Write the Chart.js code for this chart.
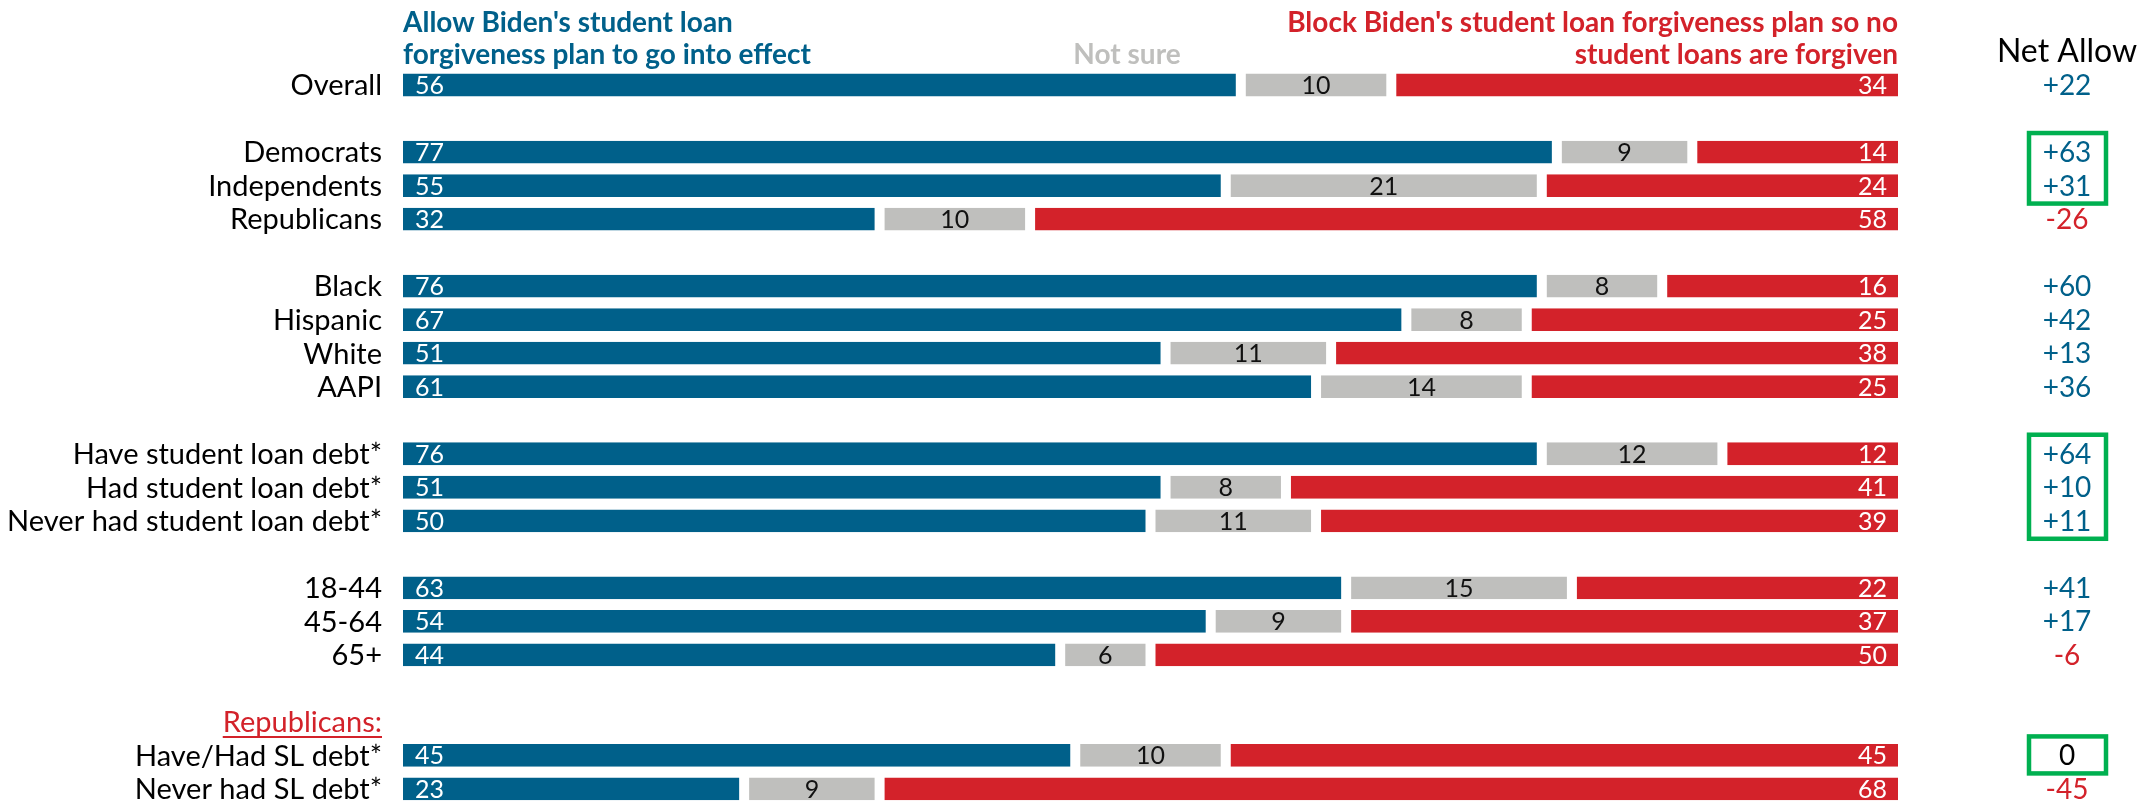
<!DOCTYPE html>
<html>
<head>
<meta charset="utf-8">
<script src="https://cdn.jsdelivr.net/npm/chart.js@4.4.1/dist/chart.umd.min.js"></script>
<style>
  html, body { margin: 0; background: #fff; overflow: hidden; }
  #wrap { width: 2152px; height: 830px; }
</style>
</head>
<body>
<div id="wrap"><canvas id="chart"></canvas></div>
<script>
// rows, '' = spacer row
const categories = ['Overall', '', 'Democrats', 'Independents', 'Republicans', '',
  'Black', 'Hispanic', 'White', 'AAPI', '',
  'Have student loan debt*', 'Had student loan debt*', 'Never had student loan debt*', '',
  '18-44', '45-64', '65+', '', 'Republicans:', 'Have/Had SL debt*', 'Never had SL debt*'];
const allow    = [56, null, 77, 55, 32, null, 76, 67, 51, 61, null, 76, 51, 50, null, 63, 54, 44, null, null, 45, 23];
const notSure  = [10, null, 9, 21, 10, null, 8, 8, 11, 14, null, 12, 8, 11, null, 15, 9, 6, null, null, 10, 9];
const block    = [34, null, 14, 24, 58, null, 16, 25, 38, 25, null, 12, 41, 39, null, 22, 37, 50, null, null, 45, 68];
const netAllow = [22, null, 63, 31, -26, null, 60, 42, 13, 36, null, 64, 10, 11, null, 41, 17, -6, null, null, 0, -45];
const boxedRows = [[2, 3], [11, 13], [20, 20]];
const subHeader = 'Republicans:';

const BLUE = '#00608a';
const RED = '#d3222a';
const GRAY = '#bfbfbd';
const GREEN = '#00b050';
const FONT = "Lato, 'Liberation Sans', sans-serif";

const barStyle = {
  borderColor: '#fff',
  borderWidth: { left: 5, right: 5, top: 0, bottom: 0 },
  borderSkipped: false,
  barPercentage: 0.68,
  categoryPercentage: 1
};

const overlay = {
  id: 'overlay',
  afterDatasetsDraw(chart) {
    const { ctx, chartArea, scales: { x, y } } = chart;
    ctx.save();
    ctx.textBaseline = 'middle';

    // row labels
    const labelX = chartArea.left - 16;
    ctx.font = `29px ${FONT}`;
    ctx.textAlign = 'right';
    categories.forEach((c, i) => {
      if (!c) return;
      const yy = y.getPixelForValue(i) + 1;
      ctx.fillStyle = c === subHeader ? RED : '#000';
      ctx.fillText(c, labelX, yy);
      if (c === subHeader) {
        const w = ctx.measureText(c).width;
        ctx.strokeStyle = RED; ctx.lineWidth = 2;
        ctx.beginPath();
        ctx.moveTo(labelX - w, yy + 14);
        ctx.lineTo(labelX, yy + 14);
        ctx.stroke();
      }
    });

    // values inside the bars
    ctx.font = `25px ${FONT}`;
    chart.data.datasets.forEach((ds, di) => {
      chart.getDatasetMeta(di).data.forEach((bar, i) => {
        const v = ds.data[i];
        if (v == null) return;
        const l = Math.min(bar.x, bar.base) + 5, r = Math.max(bar.x, bar.base) - 5;
        if (di === 0) { ctx.fillStyle = '#fff'; ctx.textAlign = 'left'; ctx.fillText(v, l + 12, bar.y + 1); }
        if (di === 1) { ctx.fillStyle = '#111'; ctx.textAlign = 'center'; ctx.fillText(v, (l + r) / 2, bar.y + 1); }
        if (di === 2) { ctx.fillStyle = '#fff'; ctx.textAlign = 'right'; ctx.fillText(v, r - 11, bar.y + 1); }
      });
    });

    // column headers
    const x0 = x.getPixelForValue(0) + 5, x100 = x.getPixelForValue(100) - 5;
    const top = chartArea.top;
    ctx.font = `bold 28px ${FONT}`;
    ctx.fillStyle = BLUE; ctx.textAlign = 'left';
    ctx.fillText("Allow Biden's student loan", x0, top - 45);
    ctx.fillText('forgiveness plan to go into effect', x0, top - 13);
    ctx.fillStyle = RED; ctx.textAlign = 'right';
    ctx.fillText("Block Biden's student loan forgiveness plan so no", x100, top - 45);
    ctx.fillText('student loans are forgiven', x100, top - 13);
    ctx.fillStyle = GRAY; ctx.textAlign = 'center';
    ctx.fillText('Not sure', 1127, top - 13);

    // net allow column
    const netX = 2067;
    ctx.font = `32px ${FONT}`;
    ctx.fillStyle = '#000';
    ctx.fillText('Net Allow', netX, top - 17);
    ctx.font = `28px ${FONT}`;
    netAllow.forEach((v, i) => {
      if (v == null) return;
      ctx.fillStyle = v > 0 ? BLUE : v < 0 ? RED : '#000';
      ctx.fillText(v > 0 ? '+' + v : String(v), netX, y.getPixelForValue(i) + 1);
    });

    // highlight boxes
    ctx.strokeStyle = GREEN; ctx.lineWidth = 4.5;
    boxedRows.forEach(([a, b]) => {
      const y1 = y.getPixelForValue(a) - 19, y2 = y.getPixelForValue(b) + 18;
      ctx.strokeRect(2029, y1, 77, y2 - y1);
    });
    ctx.restore();
  }
};

new Chart(document.getElementById('chart'), {
  type: 'bar',
  data: {
    labels: categories,
    datasets: [
      { label: 'Allow', data: allow, backgroundColor: BLUE, ...barStyle },
      { label: 'Not sure', data: notSure, backgroundColor: GRAY, ...barStyle },
      { label: 'Block', data: block, backgroundColor: RED, ...barStyle }
    ]
  },
  options: {
    indexAxis: 'y',
    responsive: true,
    maintainAspectRatio: false,
    animation: false,
    layout: { padding: { left: 398, right: 249, top: 68.24, bottom: 24.3 } },
    plugins: { legend: { display: false }, tooltip: { enabled: false } },
    scales: {
      x: { display: false, stacked: true, min: 0, max: 100 },
      y: { display: false, stacked: true }
    }
  },
  plugins: [overlay]
});
</script>
</body>
</html>
